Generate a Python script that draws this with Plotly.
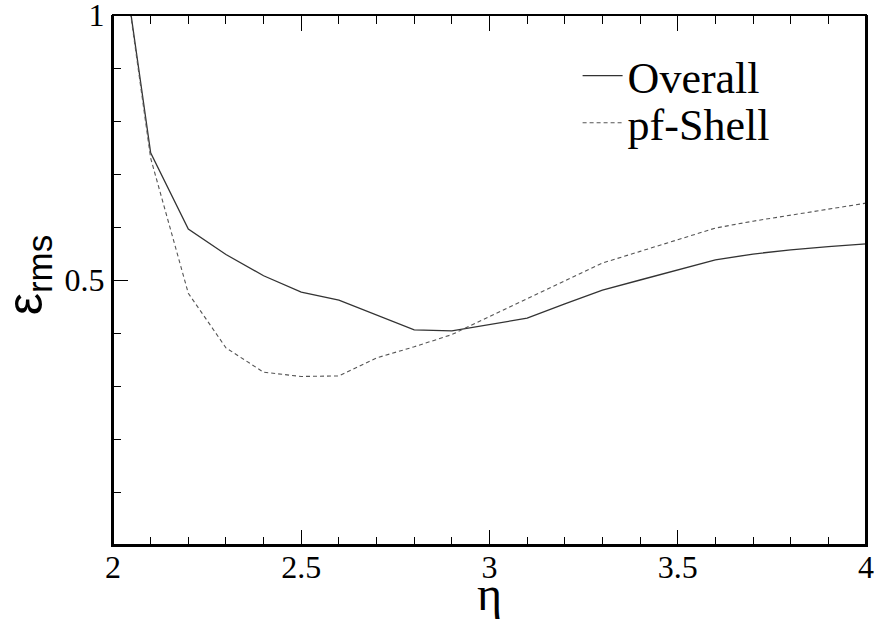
import plotly.graph_objects as go

eta = [2.0, 2.1, 2.2, 2.3, 2.4, 2.5, 2.6, 2.7, 2.8, 2.9, 3.0,
       3.1, 3.2, 3.3, 3.4, 3.5, 3.6, 3.7, 3.8, 3.9, 4.0]
overall = [1.24, 0.74, 0.596, 0.548, 0.508, 0.477, 0.462, 0.434, 0.406, 0.404, 0.416,
           0.428, 0.455, 0.481, 0.500, 0.519, 0.538, 0.549, 0.557, 0.563, 0.568]
pf_shell = [1.24, 0.73, 0.475, 0.372, 0.326, 0.318, 0.319, 0.353, 0.374, 0.397, 0.431,
            0.465, 0.498, 0.532, 0.554, 0.576, 0.598, 0.611, 0.622, 0.634, 0.645]

y_tickvals = [0.5, 1]
y_ticktext = ["0.5", "1"]
x_tickvals = [2, 2.5, 3, 3.5, 4]
x_ticktext = ["2", "2.5", "3", "3.5", "4"]

serif = "Liberation Serif, Times New Roman, DejaVu Serif, serif"
sans = "Liberation Sans, Arial, DejaVu Sans, sans-serif"

fig = go.Figure()
fig.add_trace(go.Scatter(x=eta, y=overall, mode="lines", name="Overall",
                         line=dict(color="#333333", width=1.3), legend="legend"))
fig.add_trace(go.Scatter(x=eta, y=pf_shell, mode="lines", name="pf-Shell",
                         line=dict(color="#555555", width=1.1, dash="4px,3px"),
                         legend="legend2"))
# empty traces so the tick-only overlay x axes get drawn
for ax in ["x2", "x3", "x4", "x5"]:
    fig.add_trace(go.Scatter(x=[], y=[], xaxis=ax, yaxis="y", showlegend=False,
                             hoverinfo="skip", mode="lines"))

leg_common = dict(xanchor="left", yanchor="middle", bgcolor="rgba(0,0,0,0)",
                  font=dict(family=serif, size=44, color="black"), itemwidth=40)


def tick_axis(side, pos, dtick, length):
    # axis drawn on the frame whose "outside" ticks point into the plot
    return dict(range=[2, 4], overlaying="x", anchor="free", position=pos, side=side,
                tickmode="linear", tick0=2, dtick=dtick,
                ticks="outside", ticklen=length, tickwidth=1, tickcolor="black",
                showline=False, showticklabels=False, showgrid=False, zeroline=False,
                automargin=False)


fig.update_layout(
    width=874, height=619,
    margin=dict(l=113, r=8, t=15, b=74, autoexpand=False),
    paper_bgcolor="white", plot_bgcolor="white",
    showlegend=True,
    legend=dict(x=0.617, y=0.885, **leg_common),
    legend2=dict(x=0.617, y=0.796, **leg_common),
    xaxis=dict(range=[2, 4], tickmode="array", tickvals=x_tickvals, ticktext=x_ticktext,
               ticks="", showline=True, linecolor="black", linewidth=2,
               showgrid=False, zeroline=False, automargin=False,
               ticklabeloverflow="allow", ticklabelstandoff=-7,
               tickfont=dict(family=serif, size=32, color="black")),
    xaxis2=tick_axis("top", 0, 0.5, 15),
    xaxis3=tick_axis("top", 0, 0.1, 8),
    xaxis4=tick_axis("bottom", 1, 0.5, 15),
    xaxis5=tick_axis("bottom", 1, 0.1, 8),
    yaxis=dict(range=[0, 1], tickmode="array", tickvals=y_tickvals, ticktext=y_ticktext,
               ticks="inside", ticklen=15, tickwidth=1, tickcolor="black",
               minor=dict(ticks="inside", ticklen=8, tickwidth=1, tickcolor="black", dtick=0.1),
               showline=True, linecolor="black", linewidth=2, mirror=True,
               showgrid=False, zeroline=False, automargin=False,
               ticklabeloverflow="allow",
               tickfont=dict(family=serif, size=32, color="black")),
    shapes=[dict(type="rect", xref="paper", yref="paper", x0=0, x1=1, y0=0, y1=1,
                 line=dict(color="black", width=2), fillcolor="rgba(0,0,0,0)", layer="above")],
    annotations=[
        dict(text="η", xref="paper", yref="paper", x=0.5, y=-0.092,
             xanchor="center", yanchor="middle", showarrow=False,
             font=dict(family=serif, size=48, color="black")),
        dict(text="ε<sub>rms</sub>", xref="paper", yref="paper", x=-0.112, y=0.51,
             xanchor="center", yanchor="middle", showarrow=False, textangle=-90,
             font=dict(family=sans, size=50, color="black")),
    ],
)

fig.write_html("out.html", config={"displayModeBar": False},
               post_script="document.body.style.margin='0px';")
